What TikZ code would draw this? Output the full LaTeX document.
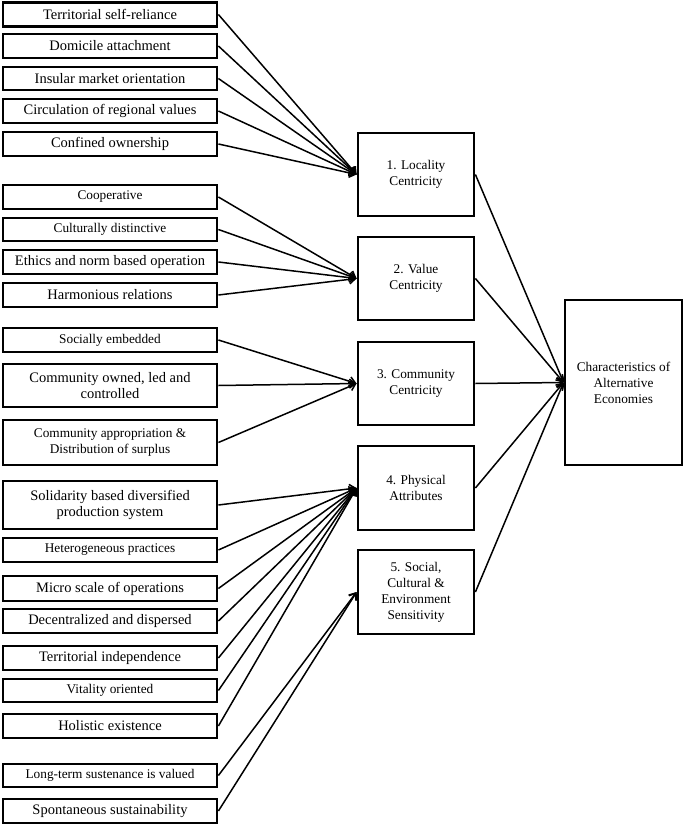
\documentclass[tikz,border=0pt]{standalone}
\usepackage{fontspec}
\setmainfont{Liberation Serif}
\usetikzlibrary{arrows.meta}
\begin{document}
\begin{tikzpicture}[x=1pt,y=-1pt,
  box/.style={draw, line width=2.8pt, inner sep=0pt, align=center, anchor=center},
  lbox/.style={box, minimum width=214},
  mbox/.style={box, minimum width=116},
  big/.style={font=\fontsize{14.5}{16.7}\selectfont},
  small/.style={font=\fontsize{13.3}{16}\selectfont},
  conn/.style={line width=1.5pt, -{Straight Barb[length=6pt,width=9pt]}}]
\useasboundingbox (0,0) rectangle (685,826);
% left boxes
\node[lbox,big,minimum height=24] (a1) at (110,14.5) {Territorial self-reliance};
\node[lbox,big,minimum height=24] (a2) at (110,46) {Domicile attachment};
\node[lbox,big,minimum height=23] (a3) at (110,78.5) {Insular market orientation};
\node[lbox,big,minimum height=24] (a4) at (110,111) {Circulation of regional values};
\node[lbox,big,minimum height=24] (a5) at (110,144) {Confined ownership};
\node[lbox,small,minimum height=24] (b1) at (110,197) {Cooperative};
\node[lbox,small,minimum height=23] (b2) at (110,229.5) {Culturally distinctive};
\node[lbox,big,minimum height=24] (b3) at (110,262) {Ethics and norm based operation};
\node[lbox,big,minimum height=24] (b4) at (110,295) {Harmonious relations};
\node[lbox,small,minimum height=24] (c1) at (110,340) {Socially embedded};
\node[lbox,big,minimum height=43] (c2) at (110,385.5) {Community owned, led and\\controlled};
\node[lbox,small,minimum height=45] (c3) at (110,442.5) {Community appropriation \&\\Distribution of surplus};
\node[lbox,big,minimum height=48] (d1) at (110,505) {Solidarity based diversified\\production system};
\node[lbox,small,minimum height=24] (d2) at (110,550) {Heterogeneous practices};
\node[lbox,big,minimum height=25] (d3) at (110,588.5) {Micro scale of operations};
\node[lbox,big,minimum height=24] (d4) at (110,621) {Decentralized and dispersed};
\node[lbox,big,minimum height=24] (d5) at (110,658) {Territorial independence};
\node[lbox,small,minimum height=23] (d6) at (110,690.5) {Vitality oriented};
\node[lbox,big,minimum height=24] (d7) at (110,726) {Holistic existence};
\node[lbox,small,minimum height=23] (e1) at (110,775.5) {Long-term sustenance is valued};
\node[lbox,big,minimum height=24] (e2) at (110,811) {Spontaneous sustainability};
% middle boxes
\node[mbox,small,minimum height=83] (m1) at (416,174.5) {1. Locality\\Centricity};
\node[mbox,small,minimum height=83] (m2) at (416,278.5) {2. Value\\Centricity};
\node[mbox,small,minimum height=83] (m3) at (416,383.5) {3. Community\\Centricity};
\node[mbox,small,minimum height=84] (m4) at (416,488) {4. Physical\\Attributes};
\node[mbox,small,minimum height=84] (m5) at (416,592) {5. Social,\\Cultural \&\\Environment\\Sensitivity};
% right box
\node[box,small,minimum width=117,minimum height=165] (R) at (623.5,382.5) {Characteristics of\\Alternative\\Economies};
% connectors
\foreach \s in {a1,a2,a3,a4,a5} \draw[conn] (\s.east) -- (m1.west);
\foreach \s in {b1,b2,b3,b4} \draw[conn] (\s.east) -- (m2.west);
\foreach \s in {c1,c2,c3} \draw[conn] (\s.east) -- (m3.west);
\foreach \s in {d1,d2,d3,d4,d5,d6,d7} \draw[conn] (\s.east) -- (m4.west);
\foreach \s in {e1,e2} \draw[conn] (\s.east) -- (m5.west);
\foreach \s in {m1,m2,m3,m4,m5} \draw[conn] (\s.east) -- (R.west);
\end{tikzpicture}
\end{document}
